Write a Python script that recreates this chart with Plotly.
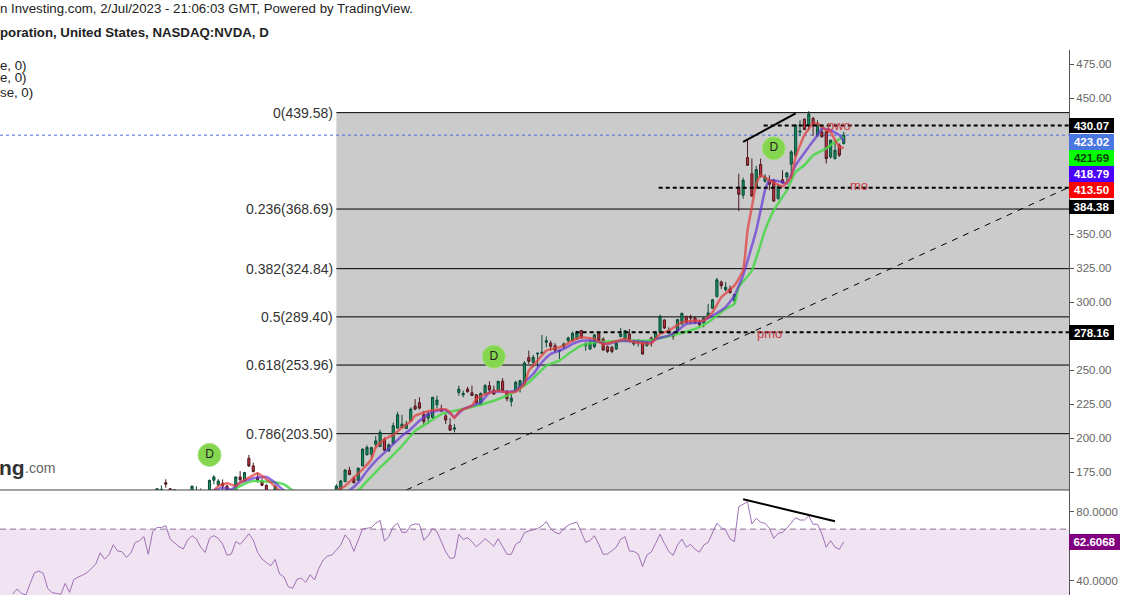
import plotly.graph_objs as go

# daily candles, bar 41 sits where the grey fib box starts
# None = candle falls below the visible part of the pane
candle_dirs = (
    "GGRRRGGGGG" "GGGGGRRGGR" "GRRRRRGGGG" "GGGGGGGGGGG"
    "GGGRRGGGGG" "GRGGGGGGRR" "RGGGRRRGGG" "RRRGGRRGRR" "GGGGRGGGGR" "RGGGGG"
    "RGGGRRRRGG" "GRGGRGRGGR" "GRGGRRRRGG" "GGRGRG"
    "RGRRGRGRRG" "RGGGGRGRGR" "RGGRG"
)
body_top = [
    163, 162.6, 167.5, 163, 162.3, None, None, None, 164.8, 160,
    159, None, 169.2, 171.7, 168.7, 167, 165, None, 171.7, 171.7,
    174.9, 185.4, 179.8, 171.7, 168.7, 165.5, None, 165, None, None,
    None, None, None, None, None, None, None, None, None, None, None,
    165.0, 168.7, 176.8, 176.6, 170.5, 178.1, 192.1, 193.3, 193.3, 198.2,
    204.4, 199.4, 195.3, 209.3, 217.4, 210.5, 210.5, 221.6, 223.8, 226.2,
    217.4, 217.9, 230.2, 228.2, 221.6, 216.6, 209.8, 207.8, 236.3, 233.1,
    236.3, 233.6, 232.1, 233.1, 238.8, 238.8, 235.6, 242, 242, 234.1,
    229.7, 241.2, 242.4, 255.5, 259.6, 259.6, 262.6, 263.3, 271.9, 270.2,
    268.2, 264.6, 269.5, 273.9, 277.3, 278.1,
    279.3, 269.4, 270.4, 276.1, 277.3, 273.1, 267.5, 267, 269.9, 276.8,
    279.3, 276.8, 270.9, 271.4, 271.9, 270.7, 273.9, 278, 289.8, 287.1,
    279.3, 276.8, 287.4, 292, 289.6, 289.6, 288.6, 285.2, 288.6, 292.3,
    301.9, 316.6, 315.1, 311.2, 310, 305.8,
    384.9, 389.8, 406.5, 394.7, 397.7, 401.4, 392.3, 389.8, 389.8, 385.4,
    390.3, 395.2, 410.7, 430.4, 426, 434.8, 438.5, 435.3, 431.1, 425.5,
    425.5, 419.3, 411.9, 415.6, 423.02,
]
body_bot = [
    158, 158, 166.3, 158, 157, None, None, None, 157, 158,
    157, None, 158, 169.2, 165.8, 165, 161, None, 160, 169.7,
    168.7, 179.8, 175.6, 169.2, 165.5, 161, None, 158, None, None,
    None, None, None, None, None, None, None, None, None, None, None,
    161.4, 161.9, 168.2, 173.4, 167.5, 169.2, 179.8, 187.9, 188.4, 195.8,
    194, 191.3, 190.8, 196.3, 207.6, 208, 207.3, 213, 221.6, 222.3,
    212.5, 214.9, 215.4, 224.8, 220.1, 213.5, 206.1, 206.8, 233.8, 232.1,
    234.3, 231.6, 226.2, 224.8, 233.1, 235.6, 232.6, 235.1, 235.1, 229.2,
    227.2, 235.1, 237, 239.5, 256.7, 256, 262.1, 262.6, 270.7, 267.8,
    265, 264.1, 267.5, 271.9, 271.9, 273.2,
    274.4, 268.2, 265.8, 267.5, 271.9, 265, 264, 264, 265.8, 274.9,
    273.1, 271.4, 269.4, 270.7, 262.1, 268.2, 272.1, 273.1, 278, 281.2,
    277.8, 275.1, 278.8, 284.2, 285.2, 288.6, 285.4, 283.7, 284.9, 288.6,
    295.7, 304.3, 312.4, 309.3, 307.1, 301.4,
    379.5, 378.8, 400.9, 378.3, 384.4, 392.8, 389.1, 386.9, 374.6, 376.3,
    387.9, 392.3, 401.6, 408.3, 425.2, 427.2, 429.9, 430.4, 422.5, 421.8,
    405.8, 407, 405.8, 408.3, 416.9,
]
wick_high = [
    163.5, 165.5, 170, 163.5, 162.8, None, None, None, 165.5, 164.8,
    163.3, None, 169.7, 172.9, 170, 169.9, 166, None, 172, 176,
    175.4, 187.9, 182.2, 174.9, 170.7, 166.3, None, 165.5, None, None,
    None, None, None, None, None, None, None, None, None, None, None,
    166.3, 169.5, 177.3, 179.1, 172.4, 178.6, 192.8, 195, 193.8, 201.7,
    206.3, 200.7, 196.3, 211.7, 219.6, 217.4, 213, 222.8, 228.9, 230.2,
    220.3, 220.3, 230.6, 231.4, 224.8, 217.9, 214.9, 210.5, 238.8, 235.1,
    238, 238.8, 232.6, 233.8, 240, 242, 238.8, 242.4, 244.4, 235.6,
    232.6, 242.4, 243.2, 256.7, 264.6, 261.4, 263.3, 276.1, 275.1, 271.9,
    270, 265, 270.7, 274.9, 278.6, 279.3,
    279.8, 270.7, 273.1, 276.8, 278, 274.4, 268.2, 268.2, 270.7, 281.2,
    279.8, 280.5, 273.1, 273.1, 272.4, 271.9, 274.9, 278.8, 291.1, 287.6,
    281.7, 278, 287.9, 292.5, 290.3, 291.1, 289.8, 287.1, 289.6, 298.9,
    302.6, 318.1, 316.1, 314.9, 312.4, 306.3,
    394.7, 391.8, 419.3, 405.8, 400.4, 405.8, 394.3, 393.5, 391, 386.9,
    397.2, 396, 411.9, 431.1, 434, 435.3, 440.7, 436.5, 434, 430.4,
    426.7, 419.8, 418.8, 416.9, 425.5,
]
wick_low = [
    157, 157, 163.8, 156, 155, None, None, None, 156, 157,
    156, None, 157, 166.3, 165, 160, 160, None, 159, 168,
    168, 179, 175, 167.5, 165, 160, None, 157, None, None,
    None, None, None, None, None, None, None, None, None, None, None,
    161.4, 161.4, 168.2, 173.2, 166.8, 168.7, 179.8, 187.7, 185.9, 193.3,
    193.8, 190.8, 190.4, 195.8, 207.3, 207.6, 206.8, 212.5, 220.8, 221.3,
    209.3, 210.5, 214.2, 222.3, 219.6, 210.5, 205.6, 204.4, 231.4, 230.2,
    233.8, 231.4, 225.2, 224, 232.6, 233.8, 232.1, 234.3, 233.6, 227.2,
    223.5, 234.6, 233.8, 238.8, 254.7, 252.3, 252.3, 262.6, 267, 264.6,
    263.3, 258.4, 265.8, 270.7, 271.4, 272.4,
    273.1, 264.5, 265, 266.5, 271.4, 264.5, 262.8, 262.6, 265, 274.4,
    272.6, 270.7, 268.2, 267.5, 261.6, 267.5, 267.5, 271.9, 277.5, 280.5,
    276.8, 272.6, 277.5, 283.7, 284.7, 284.2, 284.2, 281.2, 281.7, 287.9,
    295.2, 303.8, 310, 308.3, 306.8, 298.9,
    367.2, 376.3, 400.4, 377.5, 383.7, 391.8, 388.1, 382.5, 373.9, 375.6,
    387.4, 388.6, 391, 407, 422.3, 426.7, 426.7, 422.5, 421.8, 421.3,
    402.1, 405.8, 405.1, 407, 416.1,
]

# moving averages, read at the bars where they bend
red_bars = [0, 13, 14, 16, 18, 19, 21, 23, 24, 26, 28, 32, 37, 41, 43, 45, 47, 49, 50, 52,
            54, 56, 58, 59, 61, 63, 66, 67, 68, 69, 72, 73, 75, 78, 80, 82, 84, 85, 87, 89,
            92, 93, 95, 97, 100, 102, 104, 107, 109, 113, 115, 117, 120, 123, 125, 127, 129,
            132, 134, 135, 136, 137, 138, 140, 143, 145, 146, 148, 150, 151, 153, 154, 155,
            156, 157]
red_ema = [150, 161.8, 165, 167, 165, 167.5, 171.2, 174.4, 172.4, 167.5, 161.8, 152, 150,
           161.4, 165, 171.2, 177.3, 184.7, 193.3, 199.4,
           202.6, 208, 212.5, 216.6, 219.1, 220.8, 221.5, 219.1, 214.9, 219.8, 224, 228.9,
           232.6, 235.1, 233.8, 234.3, 240, 249.8, 257.2, 264.6,
           267, 268.2, 271.9, 274.4, 273.1, 269.4, 270.7, 273.1, 270.7, 269.9, 276.8, 279.3,
           285.4, 286.6, 286.6, 292.8, 303.8,
           312.4, 323.5, 353, 370.2, 387.4, 393.5, 389.8, 385.4, 392.3, 407, 423, 431.6,
           431.6, 426.7, 425.5, 419.3,
           414.4, 413.5]
purple_bars = [0, 13, 15, 17, 19, 22, 25, 27, 29, 36, 44, 46, 48, 50, 52, 54, 56, 58, 60, 62,
               64, 66, 68, 70, 72, 74, 76, 78, 80, 82, 84, 86, 88, 90, 93, 95, 97, 100, 103,
               106, 109, 113, 114, 117, 119, 121, 124, 127, 130, 132, 134, 137, 138, 139, 140,
               143, 144, 146, 149, 151, 152, 154, 156, 157]
purple_ema = [150, 161.8, 163.8, 162.5, 167.5, 170.7, 171.7, 167.5, 161.8, 152, 161.9, 167.5,
              176.1, 183.5, 189.6, 195.8, 201.9, 206.8, 213, 217.9,
              220.3, 220.8, 215.9, 221.6, 224, 226.5, 233.8, 234.6, 234.3, 235.1, 241.2, 247.4,
              256, 262.1, 265.8, 269.5, 271.9, 271.9, 269.4,
              271.9, 271.4, 270.7, 273.1, 275.6, 279.3, 284.2, 285.4, 290.3, 296.5, 305.1, 320,
              353, 367.7, 382.5, 389.8,
              388.6, 387.4, 400.9, 414.4, 423, 427.9, 426.7, 423, 418.79]
green_bars = [0, 17, 20, 22, 26, 29, 31, 36, 46, 48, 51, 53, 56, 59, 62, 65, 68, 70, 74, 77,
              80, 82, 85, 87, 89, 92, 94, 97, 100, 104, 107, 112, 114, 119, 123, 126, 128, 130,
              132, 133, 136, 139, 141, 144, 146, 148, 150, 153, 155, 157]
green_ema = [150, 161.8, 166.7, 168.7, 168.2, 166.3, 161.8, 150, 161.9, 168.7, 178.6, 184.7,
             194.5, 205.6, 211.7, 217.9, 220.3, 221.6, 224.8, 227.7,
             231.4, 235.1, 241.2, 247.4, 253.5, 257.2, 262.1, 268.2, 270.7, 271.4, 271.9, 271.9,
             273.1, 276.8, 280.5, 285.4, 290.3, 295.2,
             298.9, 311.2, 323.5, 353, 367.7, 382.5, 396, 400.9, 408.3, 413.2, 418.1, 421.69]

# rsi, one value per bar and ending on the last candle
rsi_values = [
    32.1, 35.0, 32.5, 31.5, 38.3, 44.6, 45.5, 44.2, 35.4, 32.9, 32.5, 31.9, 38.3, 33.1, 40.7,
    42.2, 43.2, 44.6, 47.1, 49.6, 56.2, 52.5, 54.9, 60.9, 57.2, 56.8, 53.5, 55.9, 62.1, 63.3,
    65.6, 55.3, 68.5, 70.9, 70.9, 72.0, 64.2, 61.7, 59.8, 58.4, 63.6, 66.2, 64.2, 59.4, 56.4,
    64.6, 66.2, 64.6, 61.3, 54.7, 55.5, 62.7, 61.1, 64.0, 67.3, 63.6, 56.4, 52.5, 50.6, 48.6,
    52.3, 43.8, 42.2, 36.4, 35.4, 40.7, 41.4, 38.9, 43.4, 40.3, 47.1, 52.0, 54.3, 54.9, 57.8,
    60.7,
    66.6, 63.6, 57.0, 64.0, 70.1, 70.5, 70.9, 73.4, 75.1, 62.9, 65.6, 71.4, 73.4, 68.1, 68.1,
    72.2, 73.0, 72.8, 63.5, 66.2, 70.3, 68.5, 62.7, 56.8, 52.8, 53.3, 67.0, 64.0, 65.0, 62.7,
    59.6, 62.1, 64.4, 62.3, 60.0, 64.4, 59.4, 55.3, 55.3, 61.1, 62.7, 67.9, 68.9, 69.5, 70.3,
    71.8, 74.4, 70.1, 68.1, 67.2, 70.3, 72.2, 73.4, 74.0, 68.3, 62.3, 63.3, 66.2, 61.1, 55.3,
    55.5, 57.4, 59.4, 64.0, 65.6, 57.2, 57.0, 55.5, 48.1, 54.9, 56.6, 61.7, 67.0, 61.7, 57.0,
    54.7, 60.7,
    64.2, 59.4, 61.1, 58.2, 56.5, 60.7, 62.3, 67.5, 73.4, 70.9, 69.5, 64.2, 62.7, 83.1, 84.5,
    86.0, 73.0, 76.3, 74.0, 73.4, 70.5, 64.6, 67.5, 68.1, 70.5, 73.4, 76.7, 75.3, 75.3, 77.7,
    72.8, 72.8, 67.2, 59.4, 63.3, 59.4, 58.2, 62.6068,
]

fib_labels = ["0", "0.236", "0.382", "0.5", "0.618", "0.786"]
fib_levels = [439.58, 368.69, 324.84, 289.40, 253.96, 203.50]
tag_values = [430.07, 423.02, 421.69, 418.79, 413.50, 384.38]
tag_shifts = [0, -7, -21, -33, -42, -19]
tag_heights = [15, 16, 16, 16, 16, 14]
tag_colors = ["#000000", "#4a76e0", "#00ff00", "#4b00ff", "#ff0000", "#000000"]
tag_text_colors = ["white", "white", "#0a3a0a", "white", "white", "white"]
price_ticks = [175, 200, 225, 250, 275, 300, 325, 350, 450, 475]
rsi_ticks = [40, 80]
d_bars = [12, 77, 141]
d_prices = [187.9, 260.1, 413.4]

BOX_START = 41
LAST_PRICE = 423.02
PWO, MO, PMO = 430.07, 384.38, 278.16
LEFT, RIGHT = -35.9, 208.5

up = [d == "G" for d in candle_dirs]
opens = [b if u else t for u, t, b in zip(up, body_top, body_bot)]
closes = [t if u else b for u, t, b in zip(up, body_top, body_bot)]
bars = list(range(len(body_top)))
rsi_bars = list(range(len(bars) - len(rsi_values), len(bars)))

fig = go.Figure()
fig.add_trace(go.Candlestick(
    x=bars, open=opens, high=wick_high, low=wick_low, close=closes,
    increasing=dict(fillcolor="#12905f", line=dict(color="#0d4a35", width=1)),
    decreasing=dict(fillcolor="#cc2f40", line=dict(color="#4a1a1e", width=1)),
    hoverinfo="skip",
))
for xs, ys, colour in [
    (green_bars, green_ema, "rgba(70,215,70,0.85)"),
    (purple_bars, purple_ema, "rgba(100,50,215,0.7)"),
    (red_bars, red_ema, "rgba(225,65,65,0.75)"),
]:
    fig.add_trace(go.Scatter(x=xs, y=ys, mode="lines", line=dict(color=colour, width=2.5, shape="spline", smoothing=0.4)))

# trend lines
fig.add_trace(go.Scatter(x=[57, 208.5], y=[162.1, 384.7], mode="lines",
                         line=dict(color="black", width=1, dash="6px,6px")))
fig.add_trace(go.Scatter(x=[134, 146], y=[418.1, 439], mode="lines", line=dict(color="black", width=2)))

fig.add_trace(go.Scatter(
    x=d_bars, y=d_prices, mode="markers+text", text=["D"] * 3, textposition="middle center",
    textfont=dict(family="Liberation Sans", size=12, color="#222222"),
    marker=dict(size=23, color="#84d64e", line=dict(color="#a6e07c", width=1)),
))

fig.add_trace(go.Scatter(x=rsi_bars, y=rsi_values, mode="lines", yaxis="y2",
                         line=dict(color="#a070b4", width=1)))
fig.add_trace(go.Scatter(x=[134, 155], y=[87.4, 74.6], mode="lines", yaxis="y2",
                         line=dict(color="black", width=2)))

# fib box sits behind the candles
fig.add_shape(type="rect", x0=BOX_START, x1=RIGHT, y0=162.1, y1=fib_levels[0], xref="x", yref="y",
              fillcolor="#cbcbcb", line_width=0, layer="below")
fig.add_shape(type="rect", x0=LEFT, x1=RIGHT, y0=31.53, y1=70, xref="x", yref="y2",
              fillcolor="#f0e3f2", line_width=0, layer="below")
fig.add_shape(type="line", x0=LEFT, x1=RIGHT, y0=70, y1=70, xref="x", yref="y2",
              line=dict(color="#8d7393", width=1, dash="6px,4px"), layer="below")
for level in fib_levels:
    fig.add_shape(type="line", x0=BOX_START, x1=RIGHT, y0=level, y1=level, xref="x", yref="y",
                  line=dict(color="black", width=1), layer="below")
fig.add_shape(type="line", x0=LEFT, x1=RIGHT, y0=LAST_PRICE, y1=LAST_PRICE, xref="x", yref="y",
              line=dict(color="#4a6ad8", width=1, dash="dot"), layer="below")
for start, level in [(138.7, PWO), (114.7, MO), (95.7, PMO)]:
    fig.add_shape(type="line", x0=start, x1=RIGHT, y0=level, y1=level, xref="x", yref="y",
                  line=dict(color="black", width=2, dash="4px,3px"))
# pane separator
fig.add_shape(type="line", x0=0, x1=1069 / 1127, y0=0.1765, y1=0.1765, xref="paper", yref="paper",
              line=dict(color="#444444", width=1))

FONT = "Liberation Sans"
notes = []
for text, ypos in [
    ("n Investing.com, 2/Jul/2023 - 21:06:03 GMT, Powered by TradingView.", 9),
    ("<b>poration, United States, NASDAQ:NVDA, D</b>", 32),
    ("e, 0)", 65),
    ("e, 0)", 78),
    ("se, 0)", 92),
]:
    notes.append(dict(text=text, x=0, y=1 - ypos / 595, xref="paper", yref="paper", xanchor="left", xshift=-2,
                      yanchor="middle", showarrow=False, font=dict(family=FONT, size=13.25, color="#222222")))
notes.append(dict(text="<b>ng</b>", x=25 / 1127, y=1 - 467 / 595, xref="paper", yref="paper", xanchor="right", xshift=2,
                  yanchor="middle", showarrow=False, font=dict(family=FONT, size=21, color="#333333")))
notes.append(dict(text=".com", x=25 / 1127, y=1 - 468 / 595, xref="paper", yref="paper", xanchor="left", xshift=-2,
                  yanchor="middle", showarrow=False, font=dict(family=FONT, size=14, color="#666666")))
for label, level in zip(fib_labels, fib_levels):
    notes.append(dict(text=f"{label}({level:.2f})", x=BOX_START, y=level, xref="x", yref="y", xanchor="right",
                      xshift=-1, yanchor="middle", showarrow=False, font=dict(family=FONT, size=14, color="#333333")))
for text, bar, price in [("pwo", 156, 430.4), ("mo", 160.5, 386.1), ("pmo", 140, 277.1)]:
    notes.append(dict(text=text, x=bar, y=price, xref="x", yref="y", showarrow=False,
                      font=dict(family=FONT, size=13, color="#d03a46")))
for value, shift, box_h, colour, text_colour in zip(tag_values, tag_shifts, tag_heights, tag_colors, tag_text_colors):
    notes.append(dict(text=f"<b>{value:.2f}</b>", x=1069 / 1127, y=value, xref="paper", yref="y", yshift=shift,
                      xanchor="left", yanchor="middle", showarrow=False, bgcolor=colour, width=45, height=box_h,
                      borderpad=0, borderwidth=0, font=dict(family=FONT, size=11.5, color=text_colour)))
notes.append(dict(text="<b>278.16</b>", x=1069 / 1127, y=PMO, xref="paper", yref="y", xanchor="left", yanchor="middle",
                  showarrow=False, bgcolor="#000000", width=45, height=15, borderpad=0, borderwidth=0,
                  font=dict(family=FONT, size=11.5, color="white")))
notes.append(dict(text="<b>62.6068</b>", x=1069 / 1127, y=rsi_values[-1], xref="paper", yref="y2", xanchor="left",
                  yanchor="middle", showarrow=False, bgcolor="#800080", width=51, height=16, borderpad=0, borderwidth=0,
                  font=dict(family=FONT, size=11.5, color="white")))

axis_style = dict(side="right", anchor="x", showgrid=False, zeroline=False, showline=True, linecolor="#555555",
                  ticks="outside", ticklen=4, tickcolor="#555555", tickfont=dict(family=FONT, size=11.5, color="#666666"))
fig.update_layout(
    width=1127,
    height=595,
    margin=dict(l=0, r=0, t=0, b=0),
    paper_bgcolor="white",
    plot_bgcolor="white",
    showlegend=False,
    hovermode=False,
    annotations=notes,
    xaxis=dict(domain=[0, 1069 / 1127], range=[LEFT, RIGHT], visible=False, rangeslider=dict(visible=False),
               anchor="y2"),
    yaxis=dict(domain=[0.1765, 0.916], range=[162.1, 485.65], tickvals=price_ticks, tickformat=".2f", **axis_style),
    yaxis2=dict(domain=[0, 0.1765], range=[31.53, 92.85], tickvals=rsi_ticks, tickformat=".4f", **axis_style),
)

fig.write_html("out.html", config={"displayModeBar": False}, post_script="document.body.style.margin='0';")
